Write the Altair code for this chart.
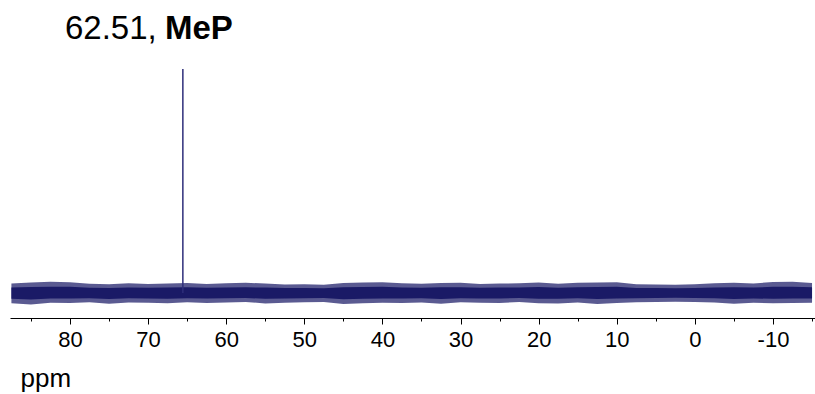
import altair as alt
import pandas as pd

# ---- data ----
ppm = [87.5, 85, 82.5, 80, 77.5, 75, 72.5, 70, 67.5, 65, 62.5, 60, 57.5, 55, 52.5, 50,
       47.5, 45, 42.5, 40, 37.5, 35, 32.5, 30, 27.5, 25, 22.5, 20, 17.5, 15, 12.5, 10,
       7.5, 5, 2.5, 0, -2.5, -5, -7.5, -10, -12.5, -15]
noise_upper = [4.2, 4.6, 5.0, 4.8, 4.1, 3.9, 4.3, 4.0, 4.2, 4.4, 4.0, 4.3, 4.5, 4.2, 3.8, 3.9,
               3.6, 4.4, 4.6, 4.8, 4.3, 4.1, 4.4, 4.5, 4.0, 4.2, 4.3, 4.7, 4.1, 4.5, 4.6, 4.8,
               3.9, 3.8, 3.7, 3.9, 4.3, 4.5, 4.2, 4.9, 5.0, 4.4]
noise_lower = [-4.6, -5.2, -4.4, -4.5, -4.2, -4.8, -4.3, -4.4, -4.6, -4.2, -4.5, -4.3, -4.0, -4.7, -4.4, -4.2,
               -4.1, -5.0, -4.6, -4.4, -4.5, -4.3, -4.8, -4.2, -4.4, -4.5, -4.1, -4.6, -4.7, -4.3, -4.9, -4.5,
               -4.2, -4.0, -3.9, -4.1, -4.3, -4.8, -4.4, -4.6, -4.5, -4.4]
core_upper = [2.4, 2.6, 2.8, 2.7, 2.3, 2.2, 2.4, 2.3, 2.4, 2.5, 2.3, 2.4, 2.5, 2.4, 2.2, 2.2,
              2.1, 2.5, 2.6, 2.7, 2.4, 2.3, 2.5, 2.5, 2.3, 2.4, 2.4, 2.6, 2.3, 2.5, 2.6, 2.7,
              2.2, 2.2, 2.1, 2.2, 2.4, 2.5, 2.4, 2.7, 2.8, 2.5]
core_lower = [-2.6, -2.9, -2.5, -2.5, -2.4, -2.7, -2.4, -2.5, -2.6, -2.4, -2.5, -2.4, -2.3, -2.6, -2.5, -2.4,
              -2.3, -2.8, -2.6, -2.5, -2.5, -2.4, -2.7, -2.4, -2.5, -2.5, -2.3, -2.6, -2.6, -2.4, -2.7, -2.5,
              -2.4, -2.3, -2.2, -2.3, -2.4, -2.7, -2.5, -2.6, -2.5, -2.5]
peak_ppm = [65.55]
peak_height = [100.0]
tick_values = [85, 80, 75, 70, 65, 60, 55, 50, 45, 40, 35, 30, 25, 20, 15, 10, 5, 0, -5, -10, -15]
label_number = ["62.51,"]
label_compound = ["MeP"]

noise = pd.DataFrame({"ppm": ppm, "hi": noise_upper, "lo": noise_lower,
                      "chi": core_upper, "clo": core_lower})
peak = pd.DataFrame({"ppm": peak_ppm, "h": peak_height, "base": [0.0]})

FONT = "Liberation Sans"
NAVY = "#1a1a66"

xscale = alt.Scale(domain=[87.68, -15.38], nice=False, zero=False)
yscale = alt.Scale(domain=[-11.2, 104.0], nice=False, zero=False)

xaxis = alt.Axis(
    values=tick_values,
    labelExpr="datum.value % 10 === 0 ? '' + datum.value : ''",
    tickSize={"condition": {"test": "datum.value % 10 === 0", "value": 6}, "value": 3},
    tickColor="black", domainColor="black", domainWidth=1, tickWidth=1,
    labelFont=FONT, labelFontSize=22, labelColor="black", labelPadding=5,
    labelFlush=False, labelOverlap=False,
    grid=False,
    title="ppm", titleFont=FONT, titleFontSize=26, titleFontWeight="normal",
    titleColor="black", titleAnchor="start", titleAlign="left",
    titleX=10, titleY=68, titleBaseline="alphabetic",
)

outer = alt.Chart(noise).mark_area(color=NAVY, opacity=0.72, interpolate="linear").encode(
    x=alt.X("ppm:Q", scale=xscale, axis=xaxis),
    y=alt.Y("hi:Q", scale=yscale, axis=None),
    y2="lo:Q",
)
inner = alt.Chart(noise).mark_area(color=NAVY, opacity=1.0).encode(
    x=alt.X("ppm:Q", scale=xscale),
    y=alt.Y("chi:Q", scale=yscale),
    y2="clo:Q",
)
peak_rule = alt.Chart(peak).mark_rule(color="#2e2e7a", strokeWidth=1.5).encode(
    x=alt.X("ppm:Q", scale=xscale),
    y=alt.Y("h:Q", scale=yscale),
    y2="base:Q",
)
t1 = alt.Chart(pd.DataFrame({"t": label_number})).mark_text(
    font=FONT, fontSize=33, color="black", align="left", baseline="alphabetic"
).encode(text="t:N", x=alt.value(55), y=alt.value(-21))
t2 = alt.Chart(pd.DataFrame({"t": label_compound})).mark_text(
    font=FONT, fontSize=33, fontWeight="bold", color="black", align="left", baseline="alphabetic"
).encode(text="t:N", x=alt.value(155), y=alt.value(-21))

chart = alt.layer(outer, inner, peak_rule, t1, t2).properties(
    width=805, height=258,
    autosize=alt.AutoSizeParams(type="none"),
    padding={"left": 10, "top": 60, "right": 0, "bottom": 76},
    background="white",
).configure_view(strokeWidth=0, stroke="transparent")

chart.save("out.html", embed_options={"renderer": "svg", "actions": False})
